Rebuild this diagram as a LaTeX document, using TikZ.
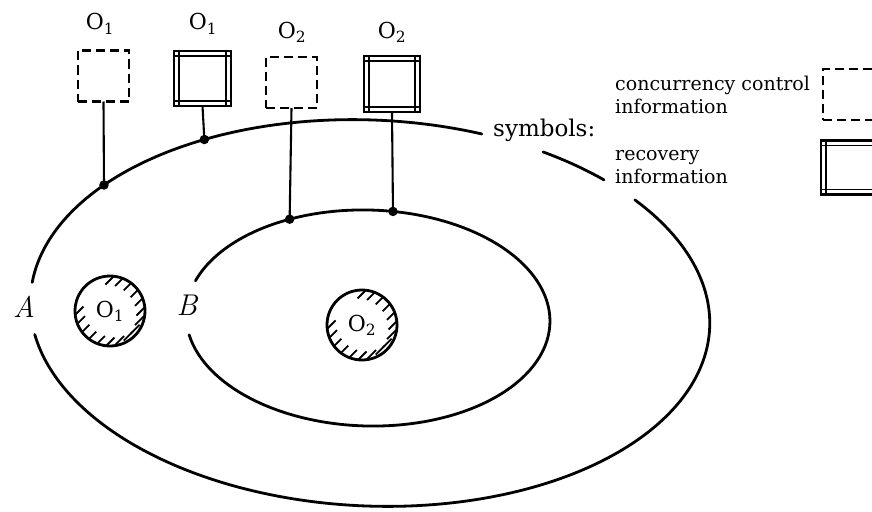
\documentclass[tikz,border=0pt]{standalone}
\usepackage{fontspec}
\setmainfont{DejaVu Serif}
\newfontfamily\setfont{Latin Modern Roman}
\usetikzlibrary{calc}
\begin{document}
\begin{tikzpicture}[x=1pt,y=-1pt,
  curve/.style={line width=2.8, line cap=round},
  conn/.style={line width=2.1},
  ccbox/.style={draw, line width=2.6, dash pattern=on 9 off 5, outer sep=0, inner sep=0},
  rcbox/.style={draw, line width=2.4, outer sep=0, inner sep=0},
  rcinner/.style={line width=1.6},
  dotmark/.style={circle, fill, inner sep=0, minimum size=9.5},
  objlabel/.style={font=\fontsize{22}{26}\selectfont, inner sep=0},
  setlabel/.style={font=\setfont\itshape\fontsize{30}{36}\selectfont, inner sep=0},
  legend/.style={font=\fontsize{19}{23}\selectfont, inner sep=0, align=left},
  hatchline/.style={line width=1.8},
  ring/.style={line width=2.8}]
\useasboundingbox (0,0) rectangle (872,511);
\clip (0,0) rectangle (872,511);

% outer set A, broken where the labels sit
\begin{scope}[shift={(370,313)}, rotate=-2.5]
  \draw[curve] plot[domain=184.7:287.8, samples=60, smooth] ({340*cos(\x)},{193*sin(\x)});
  \draw[curve] plot[domain=299.2:312.1, samples=10, smooth] ({340*cos(\x)},{193*sin(\x)});
  \draw[curve] plot[domain=319.8:529.2, samples=120, smooth] ({340*cos(\x)},{193*sin(\x)});
  \coordinate (pA1) at ({340*cos(217.05)},{193*sin(217.05)});
  \coordinate (pA2) at ({340*cos(239.4)},{193*sin(239.4)});
\end{scope}

% inner set B
\begin{scope}[shift={(368,318)}, rotate=-1.5]
  \draw[curve] plot[domain=197.6:528.5, samples=120, smooth] ({182*cos(\x)},{108*sin(\x)});
  \coordinate (pB1) at ({182*cos(243.6)},{108*sin(243.6)});
  \coordinate (pB2) at ({182*cos(277)},{108*sin(277)});
\end{scope}

\node[setlabel, anchor=base] (labA) at (24,317) {A};
\node[setlabel, anchor=base] (labB) at (187,315) {B};

% information boxes
\node[ccbox, minimum width=51, minimum height=51] (c1) at (103.5,76) {};
\node[rcbox, minimum width=57, minimum height=55] (r1) at (202.5,78.5) {};
\node[ccbox, minimum width=51, minimum height=51] (c2) at (291.5,82.5) {};
\node[rcbox, minimum width=56, minimum height=56] (r2) at (392,84) {};

\node[objlabel, anchor=base] (t1) at (100,30) {O\textsubscript{1}};
\node[objlabel, anchor=base] (t2) at (203,30) {O\textsubscript{1}};
\node[objlabel, anchor=base] (t3) at (292,38) {O\textsubscript{2}};
\node[objlabel, anchor=base] (t4) at (392,38) {O\textsubscript{2}};

% legend
\node[font=\fontsize{23}{28}\selectfont, inner sep=0, anchor=base west] (sym) at (493,136) {symbols:};
\node[legend, anchor=base west] (lcc) at (615,113) {concurrency control\\information};
\node[legend, anchor=base west] (lrc) at (615,183) {recovery\\information};
\node[ccbox, minimum width=62, minimum height=51] (c3) at (854,94.5) {};
\node[rcbox, minimum width=62, minimum height=54] (r3) at (852,167.5) {};

% inner frame of the recovery boxes
\foreach \b in {r1,r2,r3} {
  \draw[rcinner] ($(\b.north west)+(0,5)$) -- ($(\b.north east)+(0,5)$);
  \draw[rcinner] ($(\b.south west)+(0,-5)$) -- ($(\b.south east)+(0,-5)$);
  \draw[rcinner] ($(\b.north west)+(5,0)$) -- ($(\b.south west)+(5,0)$);
  \draw[rcinner] ($(\b.north east)+(-5,0)$) -- ($(\b.south east)+(-5,0)$);
}

% attachment points
\node[dotmark] (k1) at (pA1) {};
\node[dotmark] (k2) at (pA2) {};
\node[dotmark] (k3) at (pB1) {};
\node[dotmark] (k4) at (pB2) {};
\draw[conn] (c1.south) -- (k1.center);
\draw[conn] (r1.south) -- (k2.center);
\draw[conn] (c2.south) -- (k3.center);
\draw[conn] (r2.south) -- (k4.center);

% objects
\foreach \n/\cx/\cy/\s in {o1/110/311/1, o2/362/325/2} {
  \coordinate (\n) at (\cx,\cy);
  \begin{scope}
    \clip (\n) circle (35);
    \foreach \a in {-162,-144,...,90,180} {
      \draw[hatchline] ($(\n)+({31*cos(\a)},{-31*sin(\a)})$) +(-4.5,4.5) -- +(4.5,-4.5);
    }
  \end{scope}
  \draw[ring] (\n) circle (35);
  \node[objlabel] at (\n) {O\textsubscript{\s}};
}
\end{tikzpicture}
\end{document}
